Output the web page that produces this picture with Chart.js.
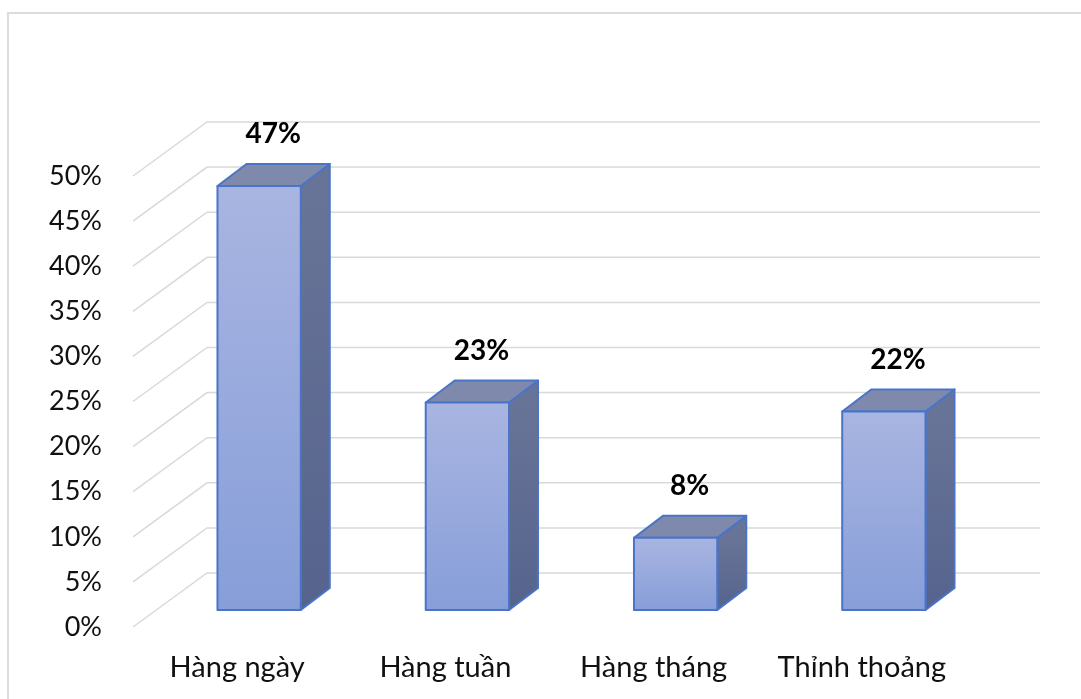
<!DOCTYPE html>
<html>
<head>
<meta charset="utf-8">
<script src="https://cdn.jsdelivr.net/npm/chart.js@4"></script>
<style>
  html, body { margin: 0; padding: 0; background: #fff; overflow: hidden; }
  #wrap { position: relative; width: 1081px; height: 699px; }
  #frame { position: absolute; left: 7px; top: 12px; width: 1200px; height: 800px; border: 2px solid #dcdcdc; box-sizing: border-box; }
  canvas { position: absolute; left: 0; top: 0; }
</style>
</head>
<body>
<div id="wrap">
  <div id="frame"></div>
  <canvas id="chart" width="1081" height="699"></canvas>
</div>
<script>
const categories = ['Hàng ngày', 'Hàng tuần', 'Hàng tháng', 'Thỉnh thoảng'];
const values = [47, 23, 8, 22];
const valueLabels = ['47%', '23%', '8%', '22%'];

// 3D look: wall offset, bar offset inside the box and bar depth, in px
const wallDx = 74, wallDy = -54;
const barDx = 22, barDy = -17;
const depthDx = 29, depthDy = -22;

const fontFamily = 'Lato, "Open Sans", sans-serif';

const threeD = {
    id: 'threeD',
    beforeDatasetsDraw(chart) {
        const ctx = chart.ctx;
        const area = chart.chartArea;
        const y = chart.scales.y;
        ctx.save();
        ctx.strokeStyle = '#d9d9d9';
        ctx.lineWidth = 1.5;
        y.ticks.forEach(function (t) {
            const py = y.getPixelForValue(t.value);
            ctx.beginPath();
            ctx.moveTo(area.left, py);
            ctx.lineTo(area.left + wallDx, py + wallDy);
            ctx.lineTo(area.right + wallDx, py + wallDy);
            ctx.stroke();
        });
        ctx.restore();
    },
    afterDatasetsDraw(chart) {
        const ctx = chart.ctx;
        const meta = chart.getDatasetMeta(0);
        ctx.save();
        meta.data.forEach(function (bar, i) {
            const w = bar.width;
            const x0 = bar.x - w / 2 + barDx;
            const x1 = bar.x + w / 2 + barDx;
            const top = bar.y + barDy;
            const bottom = bar.base + barDy;

            ctx.lineJoin = 'round';
            ctx.strokeStyle = '#4a74c8';
            ctx.lineWidth = 2;

            // side face
            let g = ctx.createLinearGradient(0, top, 0, bottom);
            g.addColorStop(0, '#687497');
            g.addColorStop(1, '#56638d');
            ctx.fillStyle = g;
            ctx.beginPath();
            ctx.moveTo(x1, top);
            ctx.lineTo(x1 + depthDx, top + depthDy);
            ctx.lineTo(x1 + depthDx, bottom + depthDy);
            ctx.lineTo(x1, bottom);
            ctx.closePath();
            ctx.fill();
            ctx.stroke();

            // top face
            ctx.fillStyle = '#7f89ac';
            ctx.beginPath();
            ctx.moveTo(x0, top);
            ctx.lineTo(x0 + depthDx, top + depthDy);
            ctx.lineTo(x1 + depthDx, top + depthDy);
            ctx.lineTo(x1, top);
            ctx.closePath();
            ctx.fill();
            ctx.stroke();

            // front face
            g = ctx.createLinearGradient(0, top, 0, bottom);
            g.addColorStop(0, '#a9b5e1');
            g.addColorStop(1, '#879ed9');
            ctx.fillStyle = g;
            ctx.beginPath();
            ctx.rect(x0, top, x1 - x0, bottom - top);
            ctx.fill();
            ctx.stroke();

            // value label
            ctx.fillStyle = '#000';
            ctx.font = 'bold 28px ' + fontFamily;
            ctx.textAlign = 'center';
            ctx.textBaseline = 'middle';
            ctx.fillText(valueLabels[i], (x0 + x1) / 2 + 14, top + depthDy - 30);
        });
        ctx.restore();
    }
};

new Chart(document.getElementById('chart'), {
    type: 'bar',
    data: {
        labels: categories,
        datasets: [{
            data: values,
            backgroundColor: 'rgba(0,0,0,0)',
            borderWidth: 0,
            barPercentage: 0.4,
            categoryPercentage: 1
        }]
    },
    options: {
        responsive: false,
        animation: false,
        layout: { padding: { top: 176, right: 115, left: 0, bottom: 0 } },
        plugins: { legend: { display: false }, tooltip: { enabled: false } },
        scales: {
            x: {
                grid: { display: false, drawTicks: false },
                border: { display: false },
                ticks: { color: '#111', padding: 23, font: { family: fontFamily, size: 29 } },
                afterFit(scale) { scale.height = 72; }
            },
            y: {
                min: 0,
                max: 50,
                grid: { display: false, drawTicks: false },
                border: { display: false },
                ticks: {
                    stepSize: 5,
                    color: '#111',
                    padding: 31,
                    font: { family: fontFamily, size: 27 },
                    callback: function (v) { return v + '%'; }
                },
                afterFit(scale) { scale.width = 133; }
            }
        }
    },
    plugins: [threeD]
});
</script>
</body>
</html>
